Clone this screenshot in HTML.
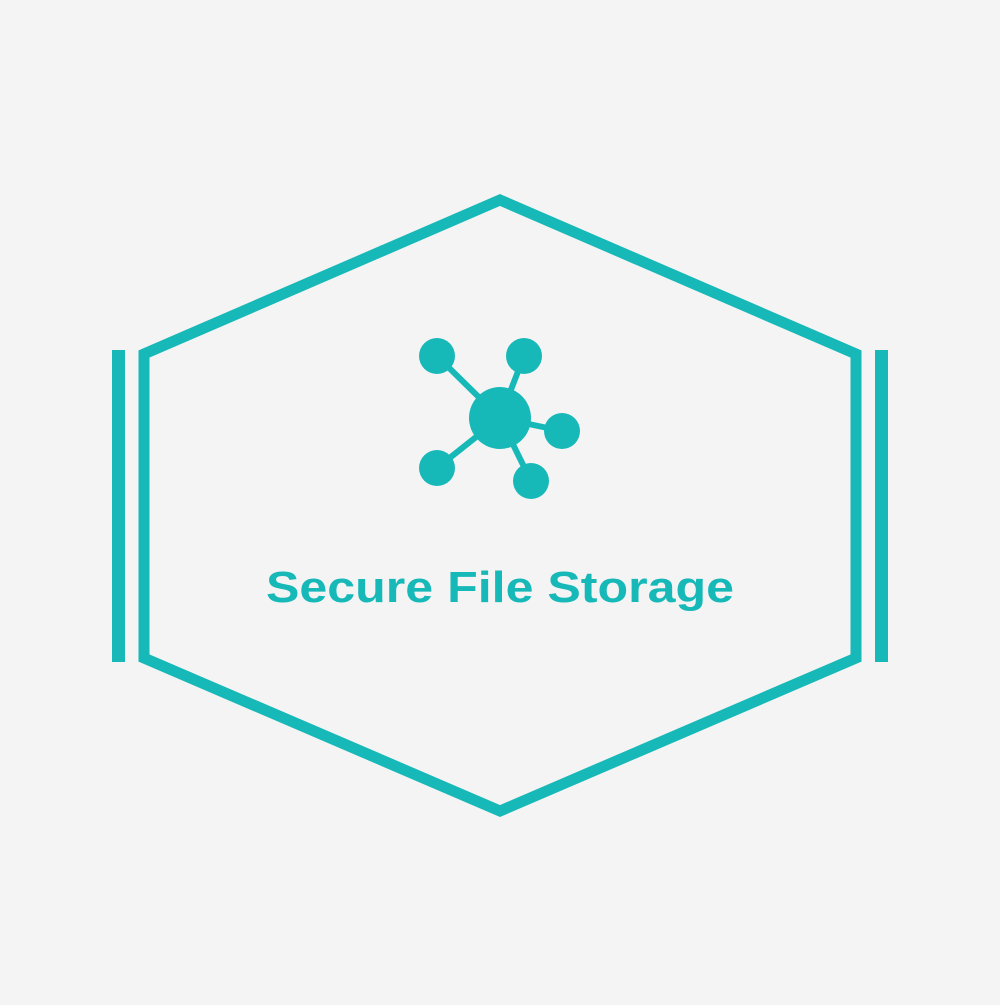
<!DOCTYPE html>
<html><head><style>body{margin:0;background:#f4f4f4}</style></head><body>
<svg width="1000" height="1000" viewBox="0 0 1000 1000" xmlns="http://www.w3.org/2000/svg">
<rect width="1000" height="1000" fill="#f4f4f4"/>
<polygon points="500,200 856,354 856,658 500,811 144,658 144,354" fill="none" stroke="#17b8b8" stroke-width="11"/>
<rect x="112" y="350" width="13" height="312" fill="#17b8b8"/>
<rect x="875" y="350" width="13" height="312" fill="#17b8b8"/>
<g stroke="#17b8b8" stroke-width="6">
<line x1="500" y1="418" x2="437" y2="356"/>
<line x1="500" y1="418" x2="524" y2="356"/>
<line x1="500" y1="418" x2="562" y2="431"/>
<line x1="500" y1="418" x2="437" y2="468"/>
<line x1="500" y1="418" x2="531" y2="481"/>
</g>
<g fill="#17b8b8">
<circle cx="500" cy="418" r="31"/>
<circle cx="437" cy="356" r="18"/>
<circle cx="524" cy="356" r="18"/>
<circle cx="562" cy="431" r="18"/>
<circle cx="437" cy="468" r="18"/>
<circle cx="531" cy="481" r="18"/>
</g>
<text x="500" y="602" text-anchor="middle" font-family="Liberation Sans, sans-serif" font-weight="bold" font-size="44" fill="#17b8b8" textLength="468" lengthAdjust="spacingAndGlyphs">Secure File Storage</text>
</svg>
</body></html>
